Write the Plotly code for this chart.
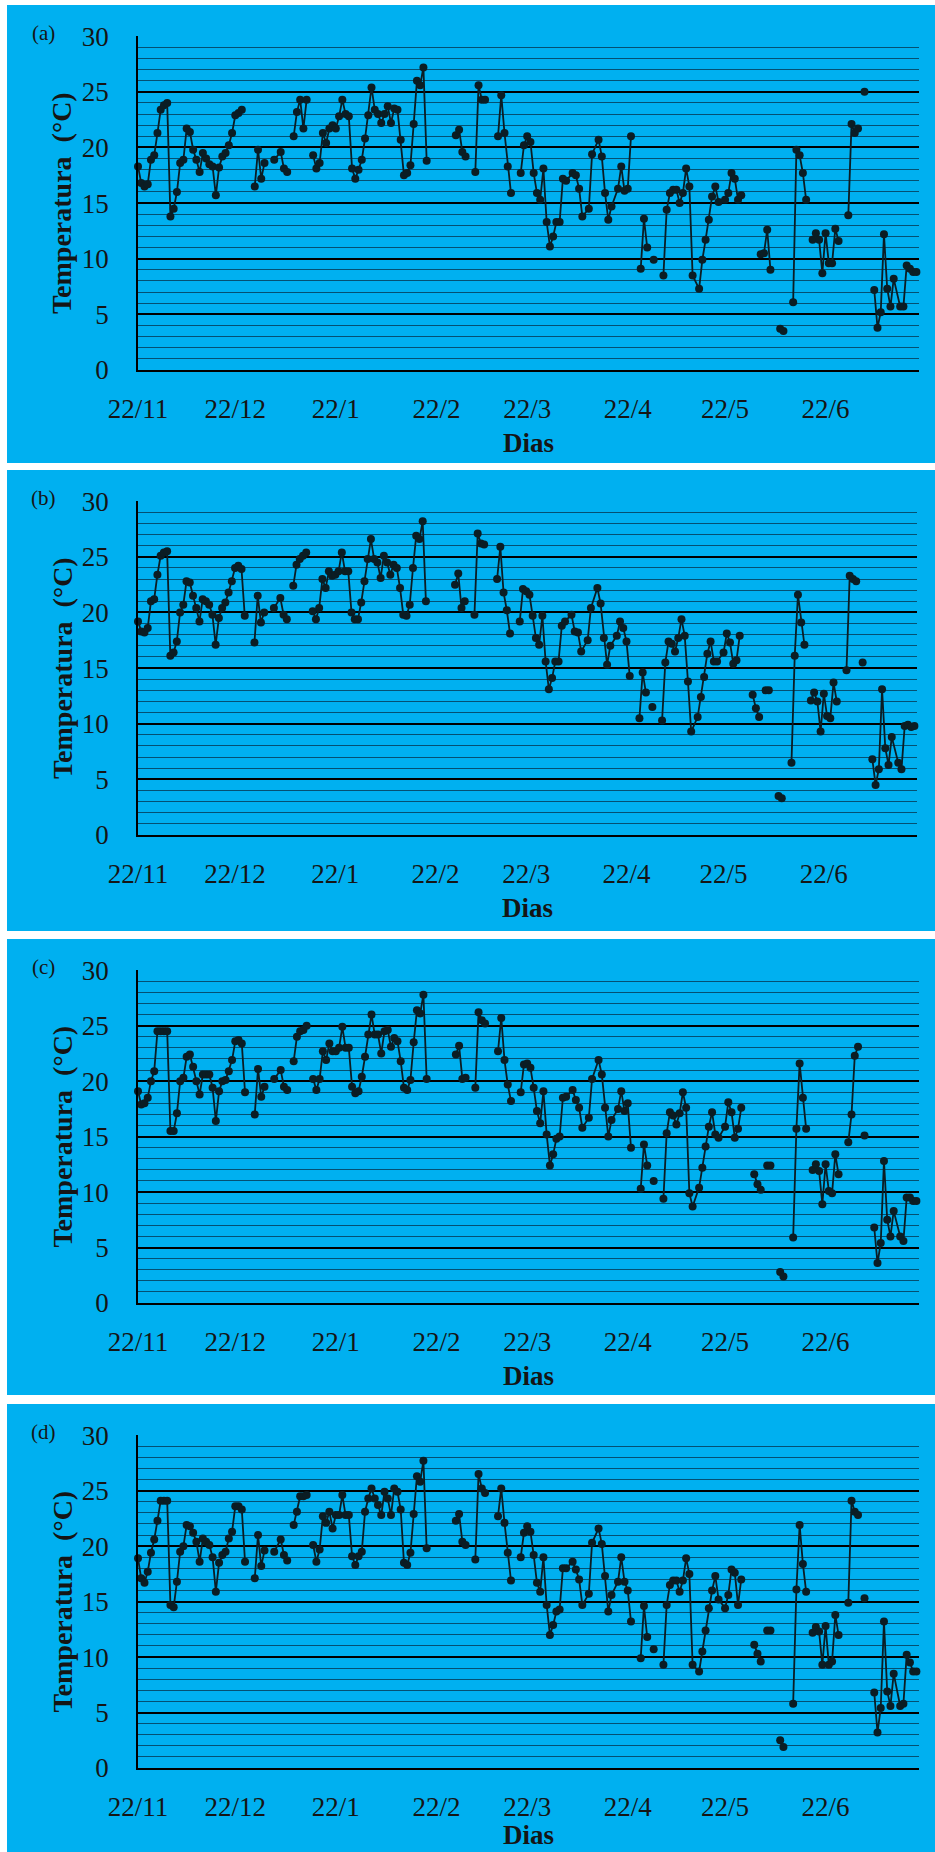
import pandas as pd
import plotly.graph_objects as go

START = "2010-11-22"

# day offsets from 22/11 (None rows in the series mark breaks in the line)
DAYS = [
    0, 1, 2, 3, 4, 5, 6, 7, 8, 9, 10, 11, 12, 13, 14, 15, 16, 17, 18, 19, 20, 21, 22, 23, 24, 25, 26, 27, 28, 29, 30, 31, 32, 33,
    34,
    36, 37, 38, 39,
    40,
    42, 44, 45, 46,
    47,
    48, 49, 50, 51, 52,
    53,
    54, 55, 56, 57, 58, 59, 60, 61, 62, 63, 64, 65, 66, 67, 68, 69, 70, 71, 72, 73, 74, 75, 76, 77, 78, 79, 80, 81, 82, 83, 84, 85, 86, 87, 88, 89,
    94,
    98, 99, 100, 101,
    102,
    104, 105, 106, 107,
    109,
    111, 112, 113, 114, 115,
    116,
    118, 119, 120, 121, 122, 123, 124, 125, 126, 127, 128, 129, 130, 131, 132, 134, 135, 136, 137, 139, 140, 142, 143, 144, 145, 146, 148, 149, 150, 151, 152,
    153,
    155, 156, 157,
    158,
    159,
    160,
    162, 163, 164, 165, 166, 167, 168, 169, 170, 171, 173, 174, 175, 176, 177, 178, 179, 181, 182, 183, 184, 185, 186,
    188,
    190, 191, 192, 193, 194, 195,
    197,
    198, 199,
    200,
    202, 203, 204, 205, 206,
    207,
    208, 209, 210, 211, 212, 213, 214, 215, 216,
    217,
    219, 220, 221, 222,
    223,
    224,
    225,
    227, 228, 229, 230, 231, 232, 233, 235, 236, 237, 238, 239, 240,
]

TEMP_A = [
    18.3, 16.8, 16.5, 16.7, 18.9, 19.3, 21.3, 23.4, 23.8, 24.0, 13.8, 14.5, 16.0, 18.6, 18.9, 21.7, 21.4, 19.8, 18.9, 17.8, 19.5, 19.0, 18.5, 18.3, 15.7, 18.2, 19.2, 19.5, 20.2, 21.3, 22.9, 23.1, 23.4, None,
    None,
    16.5, 19.8, 17.2, 18.6,
    None,
    18.9, 19.6, 18.1, 17.8,
    None,
    21.0, 23.2, 24.3, 21.7, 24.3,
    None,
    19.3, 18.1, 18.6, 21.3, 20.4, 21.7, 22.0, 21.7, 22.8, 24.3, 23.0, 22.8, 18.1, 17.2, 18.0, 18.9, 20.8, 22.9, 25.4, 23.4, 23.0, 22.2, 23.0, 23.7, 22.2, 23.5, 23.4, 20.7, 17.5, 17.7, 18.4, 22.1, 26.0, 25.6, 27.2, 18.8,
    None,
    21.1, 21.6, 19.6, 19.2,
    None,
    17.8, 25.6, 24.3, 24.3,
    None,
    21.0, 24.7, 21.3, 18.3, 15.9,
    None,
    17.7, 20.2, 21.0, 20.5, 17.7, 15.9, 15.3, 18.1, 13.3, 11.1, 12.0, 13.3, 13.3, 17.2, 17.0, 17.7, 17.5, 16.3, 13.8, 14.5, 19.4, 20.7, 19.2, 15.9, 13.5, 14.7, 16.3, 18.3, 16.1, 16.3, 21.0,
    None,
    9.1, 13.6, 11.0,
    None,
    9.9,
    None,
    8.5, 14.4, 15.9, 16.2, 16.2, 15.0, 15.9, 18.1, 16.5, 8.5, 7.3, 9.9, 11.7, 13.5, 15.6, 16.5, 15.1, 15.3, 15.9, 17.7, 17.2, 15.3, 15.7,
    None,
    None, None, 10.4, 10.5, 12.6, 9.0,
    None,
    3.7, 3.5,
    None,
    6.1, 19.8, 19.3, 17.7, 15.3,
    None,
    11.7, 12.3, 11.7, 8.7, 12.3, 9.6, 9.6, 12.7, 11.6,
    None,
    13.9, 22.1, 21.3, 21.7,
    None,
    25.0,
    None,
    7.2, 3.8, 5.2, 12.2, 7.3, 5.7, 8.2, 5.7, 5.7, 9.4, 9.1, 8.8, 8.8,
]

TEMP_B = [
    19.2, 18.3, 18.2, 18.6, 21.0, 21.2, 23.4, 25.1, 25.4, 25.5, 16.1, 16.4, 17.4, 20.0, 20.7, 22.8, 22.7, 21.5, 20.4, 19.2, 21.2, 21.0, 20.7, 19.8, 17.1, 19.5, 20.4, 20.9, 21.8, 22.8, 24.0, 24.2, 23.9, 19.7,
    None,
    17.3, 21.5, 19.1, 20.0,
    None,
    20.4, 21.3, 19.8, 19.4,
    None,
    22.4, 24.3, 24.8, 25.1, 25.4,
    None,
    20.1, 19.4, 20.4, 23.0, 22.2, 23.7, 23.3, 23.4, 23.7, 25.4, 23.7, 23.7, 20.0, 19.4, 19.4, 20.9, 22.8, 24.8, 26.6, 24.8, 24.5, 23.1, 25.1, 24.5, 23.4, 24.3, 24.0, 22.2, 19.8, 19.7, 20.7, 24.0, 26.9, 26.6, 28.2, 21.0,
    None,
    22.5, 23.5, 20.4, 21.0,
    None,
    19.8, 27.1, 26.2, 26.1,
    None,
    23.0, 25.9, 21.8, 20.2, 18.1,
    None,
    19.2, 22.1, 21.9, 21.6, 19.7, 17.7, 17.1, 19.7, 15.6, 13.1, 14.1, 15.6, 15.6, 18.8, 19.2, 19.8, 18.3, 18.2, 16.5, 17.5, 20.4, 22.2, 20.8, 17.7, 15.3, 17.0, 17.9, 19.2, 18.6, 17.4, 14.3,
    None,
    10.5, 14.6, 12.8,
    None,
    11.5,
    None,
    10.3, 15.5, 17.4, 17.2, 16.5, 17.7, 19.4, 17.9, 13.8, 9.3, 10.6, 12.4, 14.2, 16.3, 17.4, 15.6, 15.6, 16.4, 18.1, 17.3, 15.4, 15.7, 17.9,
    None,
    12.6, 11.4, 10.6, None, 13.0, 13.0,
    None,
    3.5, 3.3,
    None,
    6.5, 16.1, 21.6, 19.1, 17.1,
    None,
    12.1, 12.8, 12.0, 9.3, 12.7, 10.7, 10.5, 13.7, 12.0,
    None,
    14.8, 23.3, 23.0, 22.8,
    None,
    15.5,
    None,
    6.8, 4.5, 5.9, 13.1, 7.8, 6.3, 8.8, 6.5, 5.9, 9.8, 9.9, 9.7, 9.8,
]

TEMP_C = [
    19.1, 17.9, 18.0, 18.5, 20.0, 20.9, 24.5, 24.5, 24.5, 24.5, 15.5, 15.5, 17.1, 20.0, 20.3, 22.2, 22.4, 21.3, 20.0, 18.8, 20.6, 20.6, 20.6, 19.4, 16.4, 19.1, 20.0, 20.1, 20.9, 21.9, 23.6, 23.7, 23.4, 19.0,
    None,
    17.0, 21.1, 18.6, 19.5,
    None,
    20.2, 21.0, 19.5, 19.2,
    None,
    21.8, 24.0, 24.5, 24.6, 25.0,
    None,
    20.2, 19.2, 20.2, 22.7, 21.9, 23.4, 22.7, 22.7, 23.0, 24.9, 23.0, 23.0, 19.5, 18.9, 19.1, 20.4, 22.2, 24.2, 26.0, 24.2, 24.2, 22.5, 24.5, 24.6, 23.1, 23.9, 23.6, 21.8, 19.4, 19.2, 20.1, 23.5, 26.4, 26.1, 27.8, 20.2,
    None,
    22.4, 23.2, 20.2, 20.3,
    None,
    19.4, 26.2, 25.5, 25.2,
    None,
    22.7, 25.7, 21.9, 19.7, 18.2,
    None,
    19.0, 21.5, 21.6, 21.2, 19.4, 17.3, 16.2, 19.1, 15.2, 12.4, 13.4, 14.8, 15.0, 18.5, 18.6, 19.2, 18.3, 17.6, 15.8, 16.7, 20.2, 21.9, 20.6, 17.6, 15.0, 16.5, 17.5, 19.1, 17.3, 18.0, 14.0,
    None,
    10.3, 14.3, 12.4,
    None,
    11.0,
    None,
    9.4, 15.3, 17.2, 16.9, 16.1, 17.1, 19.0, 17.6, 9.9, 8.7, 10.4, 12.2, 14.1, 15.9, 17.2, 15.2, 14.9, 15.9, 18.1, 17.2, 14.9, 15.7, 17.6,
    None,
    11.6, 10.7, 10.2, None, 12.4, 12.4,
    None,
    2.8, 2.4,
    None,
    5.9, 15.7, 21.6, 18.5, 15.7,
    None,
    12.0, 12.5, 11.9, 8.9, 12.5, 10.1, 9.9, 13.4, 11.6,
    None,
    14.5, 17.0, 22.3, 23.1,
    None,
    15.1,
    None,
    6.8, 3.6, 5.4, 12.8, 7.5, 6.0, 8.3, 6.0, 5.6, 9.5, 9.5, 9.2, 9.2,
]

TEMP_D = [
    18.9, 17.1, 16.7, 17.7, 19.4, 20.6, 22.3, 24.1, 24.1, 24.1, 14.7, 14.5, 16.8, 19.5, 20.0, 21.9, 21.8, 21.2, 20.4, 18.6, 20.7, 20.4, 20.1, 19.0, 15.9, 18.5, 19.2, 19.5, 20.7, 21.3, 23.6, 23.6, 23.3, 18.6,
    None,
    17.1, 21.0, 18.2, 19.6,
    None,
    19.5, 20.6, 19.2, 18.7,
    None,
    21.9, 23.1, 24.5, 24.5, 24.6,
    None,
    20.1, 18.6, 19.7, 22.7, 22.1, 23.1, 21.6, 22.8, 22.8, 24.6, 22.8, 22.8, 19.1, 18.3, 19.1, 19.5, 23.1, 24.3, 25.2, 24.3, 23.7, 22.8, 24.9, 24.3, 22.8, 25.2, 24.9, 23.3, 18.5, 18.3, 19.4, 22.9, 26.3, 25.8, 27.7, 19.8,
    None,
    22.3, 22.9, 20.4, 20.1,
    None,
    18.8, 26.5, 25.2, 24.8,
    None,
    22.7, 25.2, 22.1, 19.4, 16.9,
    None,
    19.0, 21.2, 21.8, 21.3, 19.2, 16.7, 15.9, 19.0, 14.7, 12.0, 12.9, 14.1, 14.3, 18.0, 18.0, 18.6, 17.9, 17.0, 14.7, 15.7, 20.3, 21.6, 20.2, 17.3, 14.1, 15.6, 16.8, 19.0, 16.8, 16.0, 13.2,
    None,
    9.9, 14.6, 11.8,
    None,
    10.7,
    None,
    9.3, 14.7, 16.5, 16.9, 16.9, 15.9, 16.9, 18.9, 17.5, 9.3, 8.7, 10.5, 12.4, 14.4, 16.0, 17.3, 15.2, 14.4, 15.6, 17.9, 17.6, 14.7, 17.0,
    None,
    11.1, 10.3, 9.6, None, 12.4, 12.4,
    None,
    2.5, 1.9,
    None,
    5.8, 16.1, 21.9, 18.4, 15.9,
    None,
    12.2, 12.7, 12.3, 9.3, 12.8, 9.3, 9.6, 13.8, 12.0,
    None,
    14.9, 24.1, 23.1, 22.8,
    None,
    15.3,
    None,
    6.8, 3.2, 5.4, 13.2, 6.9, 5.6, 8.5, 5.6, 5.8, 10.2, 9.5, 8.7, 8.7,
]

PANEL_LABELS = ["(a)", "(b)", "(c)", "(d)"]
TICK_DATES = ["2010-11-22", "2010-12-22", "2011-01-22", "2011-02-22",
              "2011-03-22", "2011-04-22", "2011-05-22", "2011-06-22"]
TICK_LABELS = ["22/11", "22/12", "22/1", "22/2", "22/3", "22/4", "22/5", "22/6"]
Y_TICKS = [0, 5, 10, 15, 20, 25, 30]
Y_TITLE = "Temperatura\u00a0\u00a0(°C)"
X_TITLE = "Dias"

SERIES = [TEMP_A, TEMP_B, TEMP_C, TEMP_D]
for s in SERIES:
    assert len(s) == len(DAYS), (len(s), len(DAYS))

# ---------------- layout geometry (pixels) ----------------
W, H = 935, 1852
PLOT_BOXES = [(138, 919, 36, 370), (138, 917, 501, 835), (138, 919, 970, 1303), (138, 919, 1435, 1768)]
PANEL_BOXES = [(7, 935, 5, 463), (7, 935, 470, 931), (7, 935, 939, 1395), (7, 935, 1404, 1852)]
XTITLE_OFFSETS = [73, 73, 73, 67]

BLUE = "#00B0F0"
DARK = "#0b1d24"
TXT = "#151515"
FONT = "Liberation Serif, Times New Roman, serif"

start = pd.Timestamp(START)
dates = [start + pd.Timedelta(days=d) for d in DAYS]
x_end = start + pd.Timedelta(days=240.8)
x_range = [start.strftime("%Y-%m-%d"), x_end.strftime("%Y-%m-%d %H:%M:%S")]

fig = go.Figure()
shapes = []
annotations = []
layout_axes = {}

for i, (vals, lab) in enumerate(zip(SERIES, PANEL_LABELS)):
    n = "" if i == 0 else str(i + 1)
    x0, x1, y0, y1 = PLOT_BOXES[i]
    px0, px1, py0, py1 = PANEL_BOXES[i]

    fig.add_trace(go.Scatter(
        x=dates, y=vals, mode="lines+markers",
        xaxis="x" + n, yaxis="y" + n,
        line=dict(color=DARK, width=1.8),
        marker=dict(color=DARK, size=8),
        connectgaps=False, cliponaxis=False, showlegend=False,
    ))

    layout_axes["xaxis" + n] = dict(
        domain=[x0 / W, x1 / W], anchor="y" + n, type="date",
        range=x_range, tickvals=TICK_DATES, ticktext=TICK_LABELS,
        showgrid=False, zeroline=False, showline=True,
        linecolor="black", linewidth=1.6, ticks="",
        ticklabelstandoff=14, automargin=False,
        tickfont=dict(family=FONT, size=27, color=TXT),
    )
    layout_axes["yaxis" + n] = dict(
        domain=[1 - y1 / H, 1 - y0 / H], anchor="x" + n,
        range=[0, 30.02], tickvals=Y_TICKS,
        showgrid=True, gridcolor="black", gridwidth=1.6,
        minor=dict(dtick=1, tick0=0, showgrid=True,
                   gridcolor="rgba(5,40,60,0.7)", gridwidth=1, ticks=""),
        zeroline=False, showline=True, linecolor="black", linewidth=1.6,
        ticks="", ticklabelstandoff=22, automargin=False,
        tickfont=dict(family=FONT, size=27, color=TXT),
    )

    shapes.append(dict(type="rect", xref="paper", yref="paper",
                       x0=px0 / W, x1=px1 / W, y0=1 - py1 / H, y1=1 - py0 / H,
                       fillcolor=BLUE, line=dict(width=0), layer="below"))

    annotations.append(dict(text=lab, xref="paper", yref="paper",
                            x=43 / W, y=1 - (y0 - 3) / H, showarrow=False,
                            xanchor="center", yanchor="middle",
                            font=dict(family=FONT, size=21, color=TXT)))
    annotations.append(dict(text="<b>" + Y_TITLE + "</b>", xref="paper", yref="paper",
                            x=62 / W, y=1 - ((y0 + y1) / 2) / H, showarrow=False,
                            textangle=-90, xanchor="center", yanchor="middle",
                            font=dict(family=FONT, size=28, color=TXT)))
    annotations.append(dict(text="<b>" + X_TITLE + "</b>", xref="paper", yref="paper",
                            x=((x0 + x1) / 2) / W, y=1 - (y1 + XTITLE_OFFSETS[i]) / H,
                            showarrow=False, xanchor="center", yanchor="middle",
                            font=dict(family=FONT, size=27, color=TXT)))

fig.update_layout(
    template="none",
    width=W, height=H, autosize=False,
    margin=dict(l=0, r=0, t=0, b=0, pad=0),
    paper_bgcolor="white", plot_bgcolor="rgba(0,0,0,0)",
    shapes=shapes, annotations=annotations,
    showlegend=False,
    **layout_axes,
)

fig.write_html(
    "out.html",
    config={"displayModeBar": False},
    post_script="document.body.style.margin='0';document.body.style.overflow='hidden';",
)
